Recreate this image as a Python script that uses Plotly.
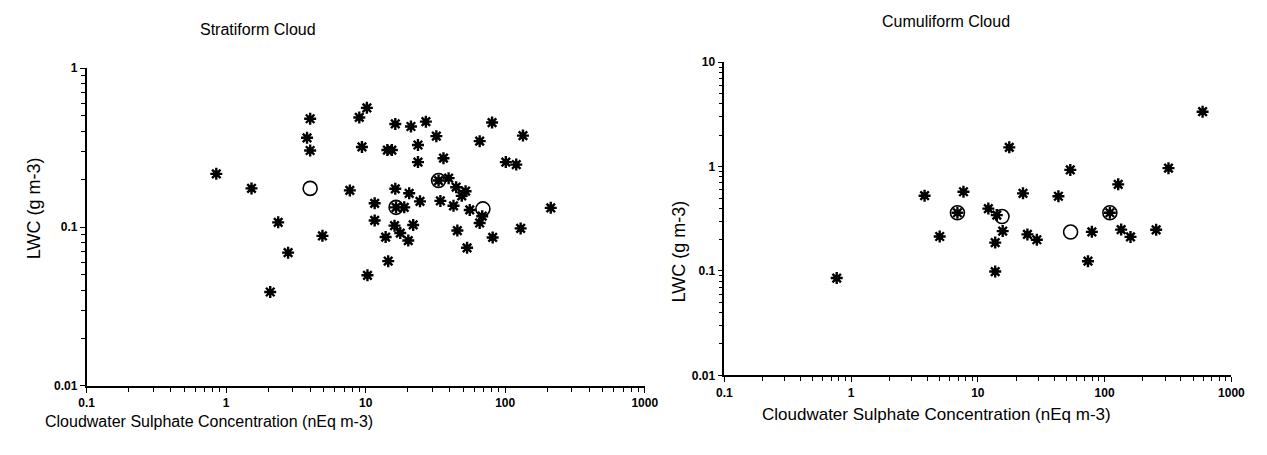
import plotly.graph_objects as go

# ---- data ----
strat_star_x = [0.85, 1.52, 4.0, 3.8, 4.0, 2.36, 4.9, 2.78, 2.07,
                10.2, 9.0, 16.3, 21.1, 27.0, 32.1, 80.5, 65.6, 134,
                9.4, 14.3, 15.4, 23.7, 23.7, 36.1, 101, 120,
                33.3, 39.3, 44.5, 52, 48.8, 7.7, 16.3, 20.5, 24.5,
                16.5, 18.9, 34.3, 42.6, 55.7, 68.4, 65.6, 11.6, 11.6,
                16.1, 21.9, 17.7, 13.9, 20.2, 45.4, 81.3, 129, 53.3,
                212, 14.5, 10.3]
strat_star_y = [0.216, 0.175, 0.48, 0.364, 0.303, 0.107, 0.088, 0.069, 0.039,
                0.562, 0.489, 0.445, 0.429, 0.46, 0.373, 0.454, 0.347, 0.376,
                0.319, 0.305, 0.305, 0.328, 0.256, 0.271, 0.256, 0.247,
                0.196, 0.203, 0.178, 0.168, 0.157, 0.170, 0.174, 0.163, 0.145,
                0.133, 0.133, 0.146, 0.136, 0.128, 0.117, 0.106, 0.141, 0.110,
                0.102, 0.103, 0.0916, 0.0865, 0.0822, 0.095, 0.086, 0.098, 0.074,
                0.132, 0.061, 0.0497]
strat_circ_x = [4.0, 16.5, 33.3, 69.2]
strat_circ_y = [0.175, 0.133, 0.196, 0.13]

cumu_star_x = [0.77, 3.8, 5.0, 6.9, 7.7, 12.1, 14.1, 15.7, 13.7, 13.7, 17.7, 24.6,
               22.7, 29.2, 43.2, 53.6, 73.9, 79.3, 110, 128, 135, 160, 255, 319, 593]
cumu_star_y = [0.0855, 0.526, 0.214, 0.361, 0.574, 0.396, 0.343, 0.241, 0.187, 0.0987,
               1.53, 0.224, 0.554, 0.199, 0.52, 0.93, 0.124, 0.237, 0.361, 0.676,
               0.249, 0.212, 0.248, 0.966, 3.36]
cumu_circ_x = [6.9, 15.5, 53.9, 110]
cumu_circ_y = [0.361, 0.332, 0.236, 0.361]

x_major = [0.1, 1, 10, 100, 1000]
x_major_text = ["0.1", "1", "10", "100", "1000"]
y_major_left = [0.01, 0.1, 1]
y_major_left_text = ["0.01", "0.1", "1"]
y_major_right = [0.01, 0.1, 1, 10]
y_major_right_text = ["0.01", "0.1", "1", "10"]
minor_digits = [2, 3, 4, 5, 6, 7, 8, 9]

titles = ["Stratiform Cloud", "Cumuliform Cloud"]
x_title = "Cloudwater Sulphate Concentration (nEq m-3)"
y_title = "LWC (g m-3)"

FONT = "Liberation Sans, Arial, sans-serif"
W, H = 1267, 455


def minor_vals(majors):
    return [v * d for v in majors[:-1] for d in minor_digits]


def bold(labels):
    return ["<b>" + t + "</b>" for t in labels]


fig = go.Figure()

star_core = dict(symbol="square", size=6, color="black", line=dict(width=0))
star_style = dict(symbol="asterisk-open", size=10, color="black",
                  line=dict(color="black", width=2.4))
circ_style = dict(symbol="circle-open", size=14, color="black",
                  line=dict(color="black", width=1.6))

for xs, ys, cx, cy, xa, ya in [
    (strat_star_x, strat_star_y, strat_circ_x, strat_circ_y, "x", "y"),
    (cumu_star_x, cumu_star_y, cumu_circ_x, cumu_circ_y, "x2", "y2"),
]:
    fig.add_trace(go.Scatter(x=xs, y=ys, mode="markers", marker=star_core,
                             xaxis=xa, yaxis=ya, showlegend=False, hoverinfo="skip"))
    fig.add_trace(go.Scatter(x=xs, y=ys, mode="markers", marker=star_style,
                             xaxis=xa, yaxis=ya, showlegend=False))
    fig.add_trace(go.Scatter(x=cx, y=cy, mode="markers", marker=circ_style,
                             xaxis=xa, yaxis=ya, showlegend=False))


def px_x(p):
    return p / W


def px_y(p):
    return 1 - p / H


axis_common = dict(type="log", showgrid=False, zeroline=False, showline=True,
                   linecolor="black", linewidth=1.6, ticks="outside", ticklen=5,
                   tickcolor="black", tickwidth=1.4, tickmode="array",
                   tickfont=dict(family=FONT, size=12, color="black"))


def minor_cfg(majors):
    return dict(tickmode="array", tickvals=minor_vals(majors), ticks="outside",
                ticklen=4, tickwidth=1.2, tickcolor="black", showgrid=False)


xdom1 = [px_x(80), px_x(648)]
ydom1 = [px_y(391), px_y(63)]
xdom2 = [px_x(729), px_x(1245)]
ydom2 = [px_y(380), px_y(57)]

fig.update_layout(
    width=W, height=H,
    margin=dict(l=0, r=0, t=0, b=0),
    paper_bgcolor="white", plot_bgcolor="white",
    font=dict(family=FONT, color="black"),
    xaxis=dict(axis_common, domain=xdom1, range=[-1, 3], anchor="y",
               tickvals=x_major, ticktext=bold(x_major_text), minor=minor_cfg(x_major)),
    yaxis=dict(axis_common, domain=ydom1, range=[-2, 0], anchor="x",
               tickvals=y_major_left, ticktext=bold(y_major_left_text),
               minor=minor_cfg(y_major_left)),
    xaxis2=dict(axis_common, domain=xdom2, range=[-1, 3], anchor="y2",
                tickvals=x_major, ticktext=bold(x_major_text), minor=minor_cfg(x_major)),
    yaxis2=dict(axis_common, domain=ydom2, range=[-2, 1], anchor="x2",
                tickvals=y_major_right, ticktext=bold(y_major_right_text),
                minor=minor_cfg(y_major_right)),
    annotations=[
        dict(text=titles[0], x=px_x(254), y=px_y(23), xref="paper", yref="paper",
             xanchor="center", yanchor="middle", showarrow=False,
             font=dict(family=FONT, size=16, color="black")),
        dict(text=titles[1], x=px_x(955), y=px_y(15), xref="paper", yref="paper",
             xanchor="center", yanchor="middle", showarrow=False,
             font=dict(family=FONT, size=16, color="black")),
        dict(text=x_title, x=px_x(205), y=px_y(428), xref="paper", yref="paper",
             xanchor="center", yanchor="middle", showarrow=False,
             font=dict(family=FONT, size=16, color="black")),
        dict(text=x_title, x=px_x(945), y=px_y(420), xref="paper", yref="paper",
             xanchor="center", yanchor="middle", showarrow=False,
             font=dict(family=FONT, size=17, color="black")),
        dict(text=y_title, x=px_x(26), y=px_y(208), xref="paper", yref="paper",
             xanchor="center", yanchor="middle", showarrow=False, textangle=-90,
             font=dict(family=FONT, size=18, color="black")),
        dict(text=y_title, x=px_x(683), y=px_y(252), xref="paper", yref="paper",
             xanchor="center", yanchor="middle", showarrow=False, textangle=-90,
             font=dict(family=FONT, size=18, color="black")),
    ],
)

fig.write_html("out.html")
